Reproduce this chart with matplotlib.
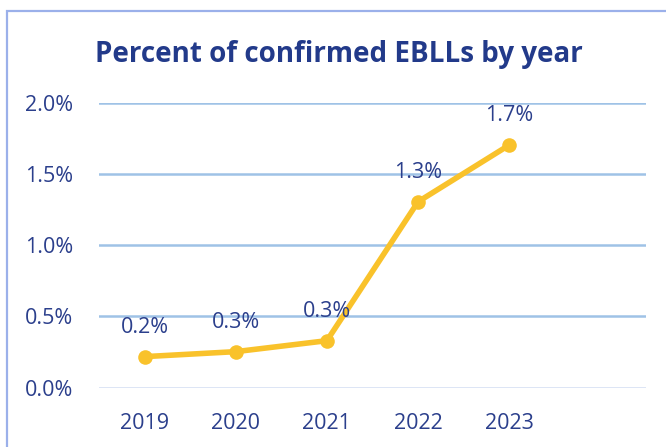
import matplotlib.pyplot as plt
from matplotlib.patches import Rectangle
import numpy as np

# Data
years = ['2019', '2020', '2021', '2022', '2023']
pct = [0.218, 0.253, 0.330, 1.305, 1.703]
labels = ['0.2%', '0.3%', '0.3%', '1.3%', '1.7%']
yticks = [0.0, 0.5, 1.0, 1.5, 2.0]

W, H = 666, 447
txt_color = '#2b3f8c'
line_color = '#f9c22b'

plt.rcParams['font.family'] = ['Open Sans', 'DejaVu Sans']

fig = plt.figure(figsize=(W / 100, H / 100), dpi=100)

# ramme rundt om diagrammet
fig.patches.append(Rectangle((7 / W, -0.1), 1.2, 1.1 - 11 / H,
                             transform=fig.transFigure, fill=False,
                             edgecolor='#9bb0ea', linewidth=1.6))

ax = fig.add_axes([99 / W, 1 - 387.7 / H, (646 - 99) / W, (387.7 - 102.7) / H])
x = np.arange(len(years))

for yt in yticks:
    col = '#d2ddf2' if yt == 0 else '#9fc2e6'
    ax.axhline(yt, color=col, linewidth=1.8, zorder=1)

ax.plot(x, pct, color=line_color, linewidth=4.0, marker='o', markersize=10.5,
        markeredgewidth=0, zorder=3, solid_capstyle='round')

for xi, yi, lab in zip(x, pct, labels):
    ax.annotate(lab, (xi, yi), xytext=(0, 21.3), textcoords='offset points',
                ha='center', va='center', fontsize=15.5, color=txt_color)

ax.set_xlim(-0.5, 5.5)
ax.set_ylim(0, 2.0)
ax.set_xticks(x)
ax.set_xticklabels(years)
ax.set_yticks(yticks)
ax.set_yticklabels([f'{v:.1f}%' for v in yticks])
ax.tick_params(length=0, labelsize=15.5, labelcolor=txt_color)
ax.tick_params(axis='x', pad=18.5)
ax.tick_params(axis='y', pad=18.5)
for s in ax.spines.values():
    s.set_visible(False)

fig.text(339 / W, 1 - 62 / H, 'Percent of confirmed EBLLs by year',
         ha='center', va='baseline', fontsize=20, fontweight='bold',
         color='#223a8a')

fig.savefig('out.png', dpi=100)
